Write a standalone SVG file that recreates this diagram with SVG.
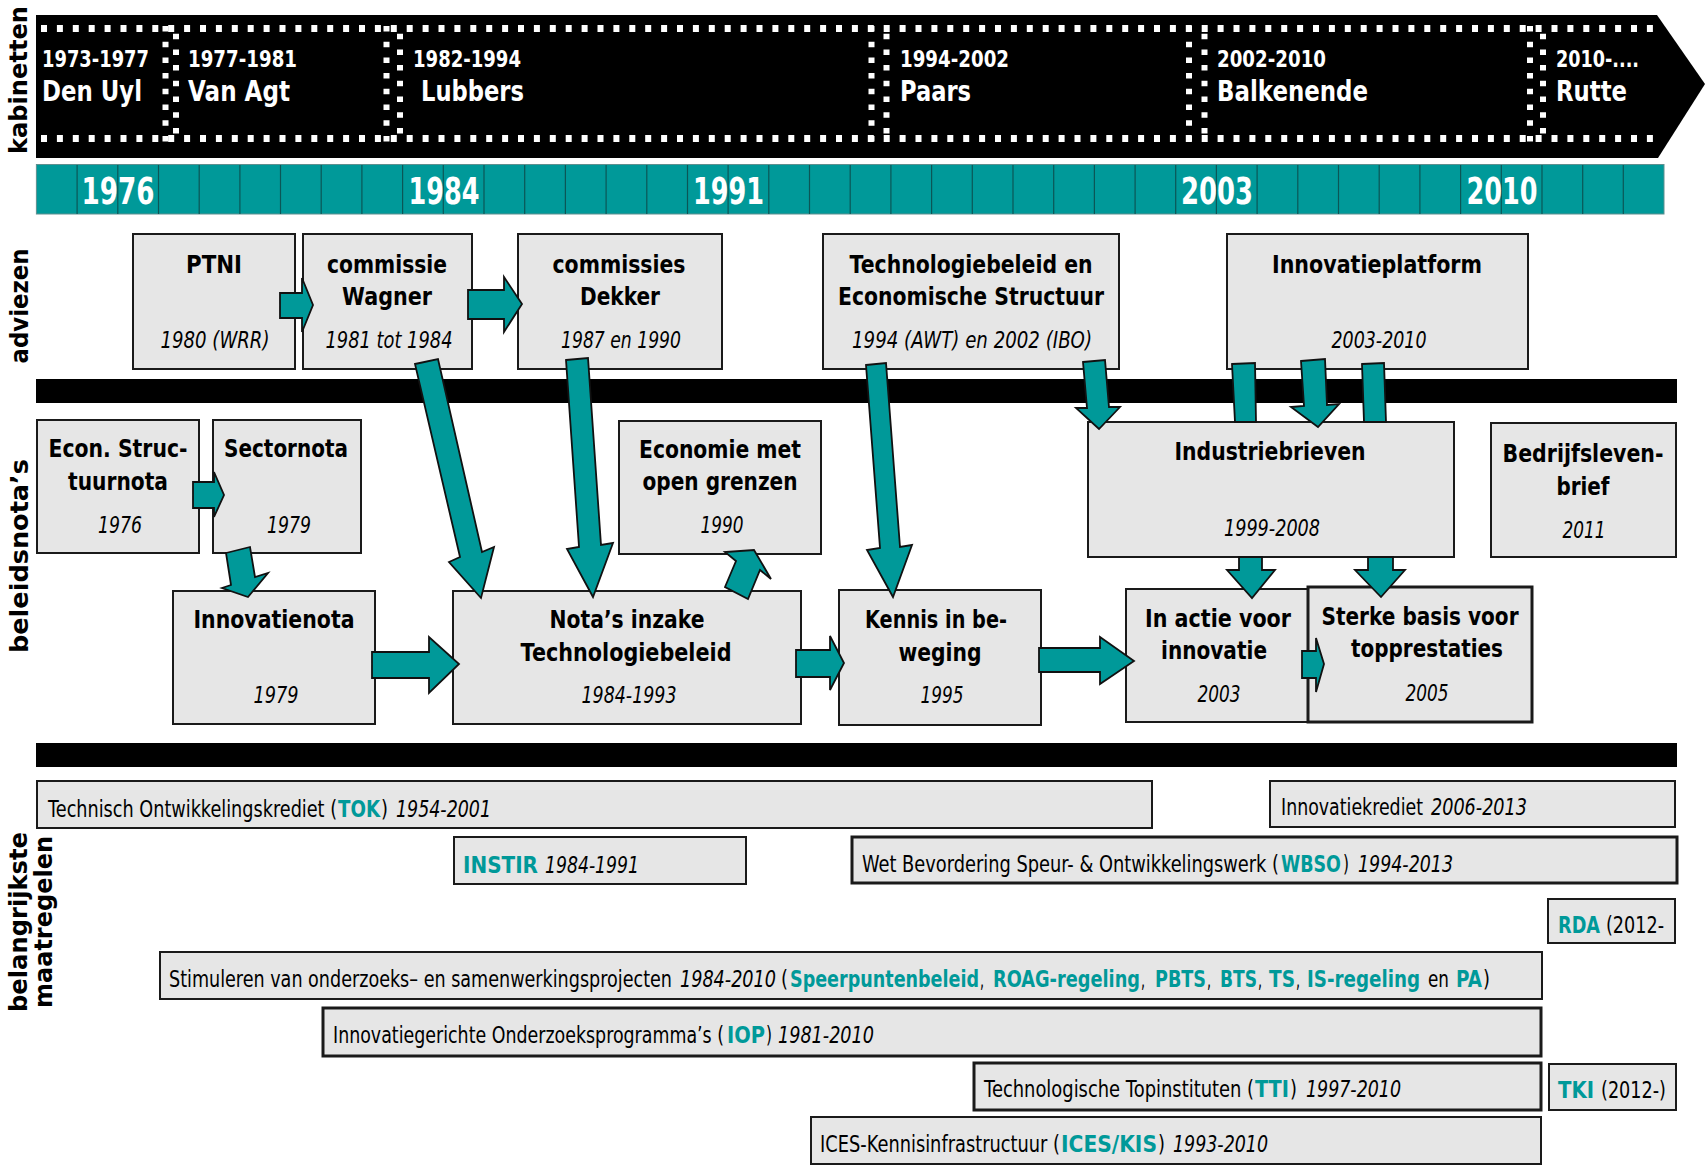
<svg xmlns="http://www.w3.org/2000/svg" width="1706" height="1167" viewBox="0 0 1706 1167">
<style>
.box{fill:#e6e6e6;stroke:#1a1a1a;stroke-width:2}
.thick{stroke-width:3}
.arr{fill:#009999;stroke:#111;stroke-width:1.8;stroke-linejoin:miter}
.t{font-family:"DejaVu Sans",Verdana,sans-serif;font-weight:bold;font-size:25px;text-anchor:middle;fill:#000}
.d{font-family:"DejaVu Sans",Verdana,sans-serif;font-style:italic;font-size:23px;text-anchor:middle;fill:#000}
.m{font-family:"DejaVu Sans",Verdana,sans-serif;font-size:23px;fill:#000}
.tb{font-family:"DejaVu Sans",Verdana,sans-serif;font-size:23px;fill:#009999;font-weight:bold}
.i{font-family:"DejaVu Sans",Verdana,sans-serif;font-size:23px;font-style:italic;fill:#000}
.lab{font-family:"DejaVu Sans",Verdana,sans-serif;font-weight:bold;font-size:24px;text-anchor:middle;fill:#000}
.cy{font-family:"DejaVu Sans",Verdana,sans-serif;font-weight:bold;font-size:23px;fill:#fff}
.cn{font-family:"DejaVu Sans",Verdana,sans-serif;font-weight:bold;font-size:29px;fill:#fff}
.yr{font-family:"DejaVu Sans",Verdana,sans-serif;font-weight:bold;font-size:37px;fill:#fff;text-anchor:middle}
.dot{stroke:#fff;fill:none}
.cell{stroke:#0b5656;stroke-width:1.2}
</style>

<!-- side labels -->
<g id="labels">
<text class="lab" transform="translate(27,80) rotate(-90)" textLength="148" lengthAdjust="spacingAndGlyphs">kabinetten</text>
<text class="lab" transform="translate(28,306) rotate(-90)" textLength="115" lengthAdjust="spacingAndGlyphs">adviezen</text>
<text class="lab" transform="translate(28,556) rotate(-90)" textLength="194" lengthAdjust="spacingAndGlyphs">beleidsnota’s</text>
<text class="lab" transform="translate(27,922) rotate(-90)" textLength="180" lengthAdjust="spacingAndGlyphs">belangrijkste</text>
<text class="lab" transform="translate(52,922) rotate(-90)" textLength="172" lengthAdjust="spacingAndGlyphs">maatregelen</text>
</g>

<!-- cabinets band -->
<g id="kabinetten">
<polygon points="36,15 1657,15 1705,84 1658,158 36,158" fill="#000"/>
<line class="dot" x1="41" y1="28.5" x2="1660" y2="28.5" stroke-width="7" stroke-dasharray="6 9.9"/>
<line class="dot" x1="41" y1="138.5" x2="1662" y2="138.5" stroke-width="7" stroke-dasharray="6 9.9"/>
<g stroke-width="6">
<line class="dot" x1="165.5" y1="26" x2="165.5" y2="142" stroke-dasharray="5.5 10.2"/>
<line class="dot" x1="176" y1="26" x2="176" y2="142" stroke-dasharray="5.5 10.2" stroke-dashoffset="8"/>
<line class="dot" x1="386.5" y1="26" x2="386.5" y2="142" stroke-dasharray="5.5 10.2"/>
<line class="dot" x1="400" y1="26" x2="400" y2="142" stroke-dasharray="5.5 10.2" stroke-dashoffset="8"/>
<line class="dot" x1="871.5" y1="26" x2="871.5" y2="142" stroke-dasharray="5.5 10.2"/>
<line class="dot" x1="886.5" y1="26" x2="886.5" y2="142" stroke-dasharray="5.5 10.2" stroke-dashoffset="8"/>
<line class="dot" x1="1189" y1="26" x2="1189" y2="142" stroke-dasharray="5.5 10.2"/>
<line class="dot" x1="1204.5" y1="26" x2="1204.5" y2="142" stroke-dasharray="5.5 10.2" stroke-dashoffset="8"/>
<line class="dot" x1="1530" y1="26" x2="1530" y2="142" stroke-dasharray="5.5 10.2"/>
<line class="dot" x1="1543" y1="26" x2="1543" y2="142" stroke-dasharray="5.5 10.2" stroke-dashoffset="8"/>
</g>
<text class="cy" x="42" y="67" textLength="107" lengthAdjust="spacingAndGlyphs">1973-1977</text>
<text class="cn" x="42" y="101" textLength="100" lengthAdjust="spacingAndGlyphs">Den Uyl</text>
<text class="cy" x="188" y="67" textLength="109" lengthAdjust="spacingAndGlyphs">1977-1981</text>
<text class="cn" x="188" y="101" textLength="102" lengthAdjust="spacingAndGlyphs">Van Agt</text>
<text class="cy" x="413" y="67" textLength="108" lengthAdjust="spacingAndGlyphs">1982-1994</text>
<text class="cn" x="421" y="101" textLength="103" lengthAdjust="spacingAndGlyphs">Lubbers</text>
<text class="cy" x="900" y="67" textLength="109" lengthAdjust="spacingAndGlyphs">1994-2002</text>
<text class="cn" x="900" y="101" textLength="71" lengthAdjust="spacingAndGlyphs">Paars</text>
<text class="cy" x="1217" y="67" textLength="109" lengthAdjust="spacingAndGlyphs">2002-2010</text>
<text class="cn" x="1217" y="101" textLength="151" lengthAdjust="spacingAndGlyphs">Balkenende</text>
<text class="cy" x="1556" y="67" textLength="83" lengthAdjust="spacingAndGlyphs">2010-....</text>
<text class="cn" x="1556" y="101" textLength="71" lengthAdjust="spacingAndGlyphs">Rutte</text>
</g>

<!-- year band -->
<g id="jaren">
<rect x="36.4" y="164.5" width="1627.6" height="49.5" fill="#009999" stroke="#5f8f8f" stroke-width="1"/>
<g class="cell">
<line x1="77.1" y1="165" x2="77.1" y2="214"/><line x1="117.8" y1="165" x2="117.8" y2="214"/><line x1="158.5" y1="165" x2="158.5" y2="214"/><line x1="199.2" y1="165" x2="199.2" y2="214"/><line x1="239.9" y1="165" x2="239.9" y2="214"/><line x1="280.5" y1="165" x2="280.5" y2="214"/><line x1="321.2" y1="165" x2="321.2" y2="214"/><line x1="361.9" y1="165" x2="361.9" y2="214"/><line x1="402.6" y1="165" x2="402.6" y2="214"/><line x1="443.3" y1="165" x2="443.3" y2="214"/><line x1="484" y1="165" x2="484" y2="214"/><line x1="524.7" y1="165" x2="524.7" y2="214"/><line x1="565.4" y1="165" x2="565.4" y2="214"/><line x1="606.1" y1="165" x2="606.1" y2="214"/><line x1="646.8" y1="165" x2="646.8" y2="214"/><line x1="687.5" y1="165" x2="687.5" y2="214"/><line x1="728.1" y1="165" x2="728.1" y2="214"/><line x1="768.8" y1="165" x2="768.8" y2="214"/><line x1="809.5" y1="165" x2="809.5" y2="214"/><line x1="850.2" y1="165" x2="850.2" y2="214"/><line x1="890.9" y1="165" x2="890.9" y2="214"/><line x1="931.6" y1="165" x2="931.6" y2="214"/><line x1="972.3" y1="165" x2="972.3" y2="214"/><line x1="1013" y1="165" x2="1013" y2="214"/><line x1="1053.7" y1="165" x2="1053.7" y2="214"/><line x1="1094.4" y1="165" x2="1094.4" y2="214"/><line x1="1135.1" y1="165" x2="1135.1" y2="214"/><line x1="1175.7" y1="165" x2="1175.7" y2="214"/><line x1="1216.4" y1="165" x2="1216.4" y2="214"/><line x1="1257.1" y1="165" x2="1257.1" y2="214"/><line x1="1297.8" y1="165" x2="1297.8" y2="214"/><line x1="1338.5" y1="165" x2="1338.5" y2="214"/><line x1="1379.2" y1="165" x2="1379.2" y2="214"/><line x1="1419.9" y1="165" x2="1419.9" y2="214"/><line x1="1460.6" y1="165" x2="1460.6" y2="214"/><line x1="1501.3" y1="165" x2="1501.3" y2="214"/><line x1="1542" y1="165" x2="1542" y2="214"/><line x1="1582.7" y1="165" x2="1582.7" y2="214"/><line x1="1623.3" y1="165" x2="1623.3" y2="214"/>
</g>
<text class="yr" x="118" y="204" textLength="73" lengthAdjust="spacingAndGlyphs">1976</text>
<text class="yr" x="444" y="204" textLength="71" lengthAdjust="spacingAndGlyphs">1984</text>
<text class="yr" x="728.5" y="204" textLength="71" lengthAdjust="spacingAndGlyphs">1991</text>
<text class="yr" x="1217" y="204" textLength="72" lengthAdjust="spacingAndGlyphs">2003</text>
<text class="yr" x="1502" y="204" textLength="71" lengthAdjust="spacingAndGlyphs">2010</text>
</g>

<!-- separator bars -->
<g id="bars">
<rect x="36" y="379" width="1641" height="24" fill="#000"/>
<rect x="36" y="743" width="1641" height="24" fill="#000"/>
</g>

<!-- adviezen -->
<g id="ptni">
<rect class="box" x="133" y="234" width="162" height="135"/>
<text class="t" transform="translate(214,273) scale(0.8,1)" textLength="70" lengthAdjust="spacingAndGlyphs">PTNI</text>
<text class="d" transform="translate(215,348) scale(0.78,1)" textLength="139.7" lengthAdjust="spacingAndGlyphs">1980 (WRR)</text>
</g>
<g id="wagner">
<rect class="box" x="303" y="234" width="169" height="135"/>
<text class="t" transform="translate(387,273) scale(0.8,1)" textLength="150" lengthAdjust="spacingAndGlyphs">commissie</text>
<text class="t" transform="translate(387,305) scale(0.8,1)" textLength="112.5" lengthAdjust="spacingAndGlyphs">Wagner</text>
<text class="d" transform="translate(389,348) scale(0.78,1)" textLength="162.8" lengthAdjust="spacingAndGlyphs">1981 tot 1984</text>
</g>
<g id="dekker">
<rect class="box" x="518" y="234" width="204" height="135"/>
<text class="t" transform="translate(619,273) scale(0.8,1)" textLength="166.3" lengthAdjust="spacingAndGlyphs">commissies</text>
<text class="t" transform="translate(620,305) scale(0.8,1)" textLength="100" lengthAdjust="spacingAndGlyphs">Dekker</text>
<text class="d" transform="translate(621,348) scale(0.78,1)" textLength="153.8" lengthAdjust="spacingAndGlyphs">1987 en 1990</text>
</g>
<g id="tes">
<rect class="box" x="823" y="234" width="296" height="135"/>
<text class="t" transform="translate(971,273) scale(0.8,1)" textLength="303.8" lengthAdjust="spacingAndGlyphs">Technologiebeleid en</text>
<text class="t" transform="translate(971,305) scale(0.8,1)" textLength="332.5" lengthAdjust="spacingAndGlyphs">Economische Structuur</text>
<text class="d" transform="translate(972,348) scale(0.78,1)" textLength="307.7" lengthAdjust="spacingAndGlyphs">1994 (AWT) en 2002 (IBO)</text>
</g>
<g id="innovatieplatform">
<rect class="box" x="1227" y="234" width="301" height="135"/>
<text class="t" transform="translate(1377,273) scale(0.8,1)" textLength="262.5" lengthAdjust="spacingAndGlyphs">Innovatieplatform</text>
<text class="d" transform="translate(1379,348) scale(0.78,1)" textLength="121.8" lengthAdjust="spacingAndGlyphs">2003-2010</text>
</g>

<!-- beleidsnota's top row -->
<g id="econ">
<rect class="box" x="37" y="420" width="162" height="133"/>
<text class="t" transform="translate(118,457) scale(0.8,1)" textLength="173.8" lengthAdjust="spacingAndGlyphs">Econ. Struc-</text>
<text class="t" transform="translate(118,490) scale(0.8,1)" textLength="125" lengthAdjust="spacingAndGlyphs">tuurnota</text>
<text class="d" transform="translate(120,533) scale(0.78,1)" textLength="56.4" lengthAdjust="spacingAndGlyphs">1976</text>
</g>
<g id="sectornota">
<rect class="box" x="213" y="420" width="148" height="133"/>
<text class="t" transform="translate(286,457) scale(0.8,1)" textLength="155" lengthAdjust="spacingAndGlyphs">Sectornota</text>
<text class="d" transform="translate(289,533) scale(0.78,1)" textLength="56.4" lengthAdjust="spacingAndGlyphs">1979</text>
</g>
<g id="economie">
<rect class="box" x="619" y="421" width="202" height="133"/>
<text class="t" transform="translate(720,458) scale(0.8,1)" textLength="202.5" lengthAdjust="spacingAndGlyphs">Economie met</text>
<text class="t" transform="translate(720,490) scale(0.8,1)" textLength="193.8" lengthAdjust="spacingAndGlyphs">open grenzen</text>
<text class="d" transform="translate(722,533) scale(0.78,1)" textLength="55.1" lengthAdjust="spacingAndGlyphs">1990</text>
</g>
<g id="industriebrieven">
<rect class="box" x="1088" y="422" width="366" height="135"/>
<text class="t" transform="translate(1270,460) scale(0.8,1)" textLength="238.8" lengthAdjust="spacingAndGlyphs">Industriebrieven</text>
<text class="d" transform="translate(1272,536) scale(0.78,1)" textLength="123.1" lengthAdjust="spacingAndGlyphs">1999-2008</text>
</g>
<g id="bedrijfslevenbrief">
<rect class="box" x="1491" y="423" width="185" height="134"/>
<text class="t" transform="translate(1583,462) scale(0.8,1)" textLength="201.3" lengthAdjust="spacingAndGlyphs">Bedrijfsleven-</text>
<text class="t" transform="translate(1583,495) scale(0.8,1)" textLength="66.3" lengthAdjust="spacingAndGlyphs">brief</text>
<text class="d" transform="translate(1584,538) scale(0.78,1)" textLength="55.1" lengthAdjust="spacingAndGlyphs">2011</text>
</g>

<!-- beleidsnota's bottom row -->
<g id="innovatienota">
<rect class="box" x="173" y="591" width="202" height="133"/>
<text class="t" transform="translate(274,628) scale(0.8,1)" textLength="201.3" lengthAdjust="spacingAndGlyphs">Innovatienota</text>
<text class="d" transform="translate(276,703) scale(0.78,1)" textLength="57.7" lengthAdjust="spacingAndGlyphs">1979</text>
</g>
<g id="notas">
<rect class="box" x="453" y="591" width="348" height="133"/>
<text class="t" transform="translate(627,628) scale(0.8,1)" textLength="193.8" lengthAdjust="spacingAndGlyphs">Nota’s inzake</text>
<text class="t" transform="translate(626,661) scale(0.8,1)" textLength="263.8" lengthAdjust="spacingAndGlyphs">Technologiebeleid</text>
<text class="d" transform="translate(629,703) scale(0.78,1)" textLength="121.8" lengthAdjust="spacingAndGlyphs">1984-1993</text>
</g>
<g id="kennis">
<rect class="box" x="839" y="590" width="202" height="135"/>
<text class="t" transform="translate(936,628) scale(0.8,1)" textLength="177.5" lengthAdjust="spacingAndGlyphs">Kennis in be-</text>
<text class="t" transform="translate(940,661) scale(0.8,1)" textLength="103.8" lengthAdjust="spacingAndGlyphs">weging</text>
<text class="d" transform="translate(942,703) scale(0.78,1)" textLength="55.1" lengthAdjust="spacingAndGlyphs">1995</text>
</g>
<g id="inactie">
<rect class="box" x="1126" y="589" width="182" height="133"/>
<text class="t" transform="translate(1218,627) scale(0.8,1)" textLength="182.5" lengthAdjust="spacingAndGlyphs">In actie voor</text>
<text class="t" transform="translate(1214,659) scale(0.8,1)" textLength="132.5" lengthAdjust="spacingAndGlyphs">innovatie</text>
<text class="d" transform="translate(1219,702) scale(0.78,1)" textLength="55.1" lengthAdjust="spacingAndGlyphs">2003</text>
</g>
<g id="sterke">
<rect class="box thick" x="1308" y="587" width="224" height="135"/>
<text class="t" transform="translate(1420,625) scale(0.8,1)" textLength="246.3" lengthAdjust="spacingAndGlyphs">Sterke basis voor</text>
<text class="t" transform="translate(1427,657) scale(0.8,1)" textLength="190" lengthAdjust="spacingAndGlyphs">topprestaties</text>
<text class="d" transform="translate(1427,701) scale(0.78,1)" textLength="55.1" lengthAdjust="spacingAndGlyphs">2005</text>
</g>

<!-- maatregelen -->
<g id="tok">
<rect class="box" x="37" y="781" width="1115" height="47"/>
<text class="m" transform="translate(48,817) scale(0.76,1)" textLength="380.3" lengthAdjust="spacingAndGlyphs">Technisch Ontwikkelingskrediet (</text>
<text class="tb" transform="translate(338,817) scale(0.76,1)" textLength="55.3" lengthAdjust="spacingAndGlyphs">TOK</text>
<text class="m" transform="translate(381,817) scale(0.76,1)" textLength="9.2" lengthAdjust="spacingAndGlyphs">)</text>
<text class="i" transform="translate(396,817) scale(0.76,1)" textLength="125" lengthAdjust="spacingAndGlyphs">1954-2001</text>
</g>
<g id="innovatiekrediet">
<rect class="box" x="1270" y="781" width="405" height="46"/>
<text class="m" transform="translate(1281,815) scale(0.76,1)" textLength="186.8" lengthAdjust="spacingAndGlyphs">Innovatiekrediet</text>
<text class="i" transform="translate(1431,815) scale(0.76,1)" textLength="126.3" lengthAdjust="spacingAndGlyphs">2006-2013</text>
</g>
<g id="instir">
<rect class="box" x="454" y="837" width="292" height="47"/>
<text class="tb" transform="translate(463,873) scale(0.76,1)" textLength="98.7" lengthAdjust="spacingAndGlyphs">INSTIR</text>
<text class="i" transform="translate(545,873) scale(0.76,1)" textLength="123.7" lengthAdjust="spacingAndGlyphs">1984-1991</text>
</g>
<g id="wbso">
<rect class="box thick" x="852" y="837" width="825" height="46"/>
<text class="m" transform="translate(862,872) scale(0.76,1)" textLength="548.7" lengthAdjust="spacingAndGlyphs">Wet Bevordering Speur- &amp; Ontwikkelingswerk (</text>
<text class="tb" transform="translate(1281,872) scale(0.76,1)" textLength="78.9" lengthAdjust="spacingAndGlyphs">WBSO</text>
<text class="m" transform="translate(1343,872) scale(0.76,1)" textLength="7.9" lengthAdjust="spacingAndGlyphs">)</text>
<text class="i" transform="translate(1358,872) scale(0.76,1)" textLength="125" lengthAdjust="spacingAndGlyphs">1994-2013</text>
</g>
<g id="rda">
<rect class="box" x="1548" y="899" width="127" height="44"/>
<text class="tb" transform="translate(1558,933) scale(0.76,1)" textLength="55.3" lengthAdjust="spacingAndGlyphs">RDA</text>
<text class="m" transform="translate(1606,933) scale(0.76,1)" textLength="76.3" lengthAdjust="spacingAndGlyphs">(2012-</text>
</g>
<g id="stimuleren">
<rect class="box" x="160" y="952" width="1382" height="47"/>
<text class="m" transform="translate(169,987) scale(0.76,1)" textLength="661.8" lengthAdjust="spacingAndGlyphs">Stimuleren van onderzoeks– en samenwerkingsprojecten</text>
<text class="i" transform="translate(680,987) scale(0.76,1)" textLength="126.3" lengthAdjust="spacingAndGlyphs">1984-2010</text>
<text class="m" transform="translate(781,987) scale(0.76,1)" textLength="9.2" lengthAdjust="spacingAndGlyphs">(</text>
<text class="tb" transform="translate(790,987) scale(0.76,1)" textLength="248.7" lengthAdjust="spacingAndGlyphs">Speerpuntenbeleid</text>
<text class="m" transform="translate(980,987) scale(0.76,1)" textLength="5.3" lengthAdjust="spacingAndGlyphs">,</text>
<text class="tb" transform="translate(993,987) scale(0.76,1)" textLength="193.4" lengthAdjust="spacingAndGlyphs">ROAG-regeling</text>
<text class="m" transform="translate(1141,987) scale(0.76,1)" textLength="5.3" lengthAdjust="spacingAndGlyphs">,</text>
<text class="tb" transform="translate(1155,987) scale(0.76,1)" textLength="67.1" lengthAdjust="spacingAndGlyphs">PBTS</text>
<text class="m" transform="translate(1207,987) scale(0.76,1)" textLength="5.3" lengthAdjust="spacingAndGlyphs">,</text>
<text class="tb" transform="translate(1220,987) scale(0.76,1)" textLength="48.7" lengthAdjust="spacingAndGlyphs">BTS</text>
<text class="m" transform="translate(1258,987) scale(0.76,1)" textLength="5.3" lengthAdjust="spacingAndGlyphs">,</text>
<text class="tb" transform="translate(1269,987) scale(0.76,1)" textLength="34.2" lengthAdjust="spacingAndGlyphs">TS</text>
<text class="m" transform="translate(1296,987) scale(0.76,1)" textLength="5.3" lengthAdjust="spacingAndGlyphs">,</text>
<text class="tb" transform="translate(1307,987) scale(0.76,1)" textLength="148.7" lengthAdjust="spacingAndGlyphs">IS-regeling</text>
<text class="m" transform="translate(1428,987) scale(0.76,1)" textLength="27.6" lengthAdjust="spacingAndGlyphs">en</text>
<text class="tb" transform="translate(1456,987) scale(0.76,1)" textLength="34.2" lengthAdjust="spacingAndGlyphs">PA</text>
<text class="m" transform="translate(1483,987) scale(0.76,1)" textLength="9.2" lengthAdjust="spacingAndGlyphs">)</text>
</g>
<g id="iop">
<rect class="box thick" x="323" y="1008" width="1218" height="48"/>
<text class="m" transform="translate(333,1043) scale(0.76,1)" textLength="514.5" lengthAdjust="spacingAndGlyphs">Innovatiegerichte Onderzoeksprogramma’s (</text>
<text class="tb" transform="translate(727,1043) scale(0.76,1)" textLength="50" lengthAdjust="spacingAndGlyphs">IOP</text>
<text class="m" transform="translate(766,1043) scale(0.76,1)" textLength="7.9" lengthAdjust="spacingAndGlyphs">)</text>
<text class="i" transform="translate(778,1043) scale(0.76,1)" textLength="126.3" lengthAdjust="spacingAndGlyphs">1981-2010</text>
</g>
<g id="tti">
<rect class="box thick" x="974" y="1063" width="567" height="47"/>
<text class="m" transform="translate(984,1097) scale(0.76,1)" textLength="355.3" lengthAdjust="spacingAndGlyphs">Technologische Topinstituten (</text>
<text class="tb" transform="translate(1255,1097) scale(0.76,1)" textLength="44.7" lengthAdjust="spacingAndGlyphs">TTI</text>
<text class="m" transform="translate(1290,1097) scale(0.76,1)" textLength="9.2" lengthAdjust="spacingAndGlyphs">)</text>
<text class="i" transform="translate(1306,1097) scale(0.76,1)" textLength="125" lengthAdjust="spacingAndGlyphs">1997-2010</text>
</g>
<g id="tki">
<rect class="box" x="1549" y="1064" width="127" height="46"/>
<text class="tb" transform="translate(1558,1098) scale(0.76,1)" textLength="47.4" lengthAdjust="spacingAndGlyphs">TKI</text>
<text class="m" transform="translate(1601,1098) scale(0.76,1)" textLength="85.5" lengthAdjust="spacingAndGlyphs">(2012-)</text>
</g>
<g id="ices">
<rect class="box" x="811" y="1117" width="730" height="47"/>
<text class="m" transform="translate(820,1152) scale(0.76,1)" textLength="315.8" lengthAdjust="spacingAndGlyphs">ICES-Kennisinfrastructuur (</text>
<text class="tb" transform="translate(1061,1152) scale(0.76,1)" textLength="126.3" lengthAdjust="spacingAndGlyphs">ICES/KIS</text>
<text class="m" transform="translate(1158,1152) scale(0.76,1)" textLength="9.2" lengthAdjust="spacingAndGlyphs">)</text>
<text class="i" transform="translate(1173,1152) scale(0.76,1)" textLength="125" lengthAdjust="spacingAndGlyphs">1993-2010</text>
</g>

<!-- connectors -->
<g id="connectors">
<polygon class="arr" points="280,293 302,293 302,278 313,305 302,332 302,318 280,318"/>
<polygon class="arr" points="468,290 504,290 504,277 522,304 504,332 504,319 468,319"/>
<polygon class="arr" points="193,482 214,482 214,472 224,495 214,517 214,508 193,508"/>
<polygon class="arr" points="226,553 250,547 255,577 268,573 248,597 222,588 231,585"/>
<polygon class="arr" points="372,652 429,652 429,637 459,664 429,693 429,678 372,678"/>
<polygon class="arr" points="415,364 438,359 482,552 494,547 481,598 449,562 460,557"/>
<polygon class="arr" points="566,360 588,358 601,545 613,543 593,597 567,549 579,547"/>
<polygon class="arr" points="725,587 736,561 725,552 754,550 771,579 760,570 748,599"/>
<polygon class="arr" points="796,650 830,650 830,636 844,663 830,690 830,677 796,677"/>
<polygon class="arr" points="866,365 886,363 900,547 912,545 893,597 867,550 880,548"/>
<polygon class="arr" points="1039,648 1100,648 1100,637 1134,661 1100,684 1100,672 1039,672"/>
<polygon class="arr" points="1083,362 1105,360 1109,407 1120,407 1099,429 1076,408 1087,408"/>
<polygon class="arr" points="1232,364 1255,363 1256,422 1235,422"/>
<polygon class="arr" points="1301,361 1325,359 1327,405 1339,404 1318,427 1291,407 1304,406"/>
<polygon class="arr" points="1362,364 1384,363 1386,422 1364,422"/>
<polygon class="arr" points="1239,557 1262,557 1262,570 1275,570 1252,598 1227,570 1239,570"/>
<polygon class="arr" points="1368,557 1393,557 1393,570 1405,570 1381,597 1355,570 1368,570"/>
<polygon class="arr" points="1302,651 1316,651 1316,638 1324,664 1316,692 1316,678 1302,678"/>
</g>
</svg>
